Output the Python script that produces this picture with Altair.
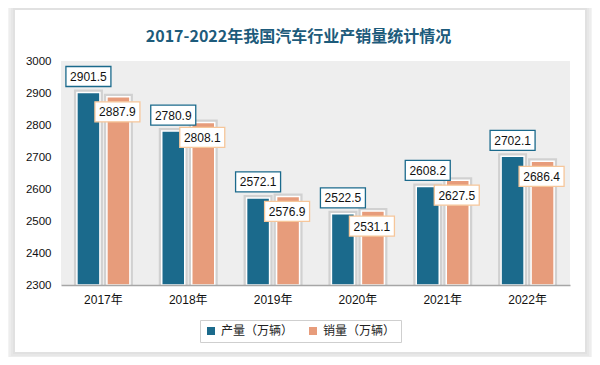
import altair as alt
import pandas as pd

# ---- data ----
years = ["2017年", "2018年", "2019年", "2020年", "2021年", "2022年"]
production = [2901.5, 2780.9, 2572.1, 2522.5, 2608.2, 2702.1]
sales = [2887.9, 2808.1, 2576.9, 2531.1, 2627.5, 2686.4]
series_names = ["产量（万辆）", "销量（万辆）"]
series_colors = ["#1b6a8c", "#e79c7b"]
box_strokes = ["#1b6a8c", "#f6c69a"]
y_ticks = [2300, 2400, 2500, 2600, 2700, 2800, 2900, 3000]
title_text = "2017-2022年我国汽车行业产销量统计情况"

W, H = 509, 224
NUM_FONT = "'Liberation Sans', 'Noto Sans CJK SC', sans-serif"
CJK_FONT = "'Noto Sans CJK SC', sans-serif"

df = pd.DataFrame({
    "year": years * 2,
    "series": [series_names[0]] * len(years) + [series_names[1]] * len(years),
    "value": production + sales,
})
prod_df = df[df["series"] == series_names[0]]
sales_df = df[df["series"] == series_names[1]]
one = pd.DataFrame({"a": [0]})

x_enc = alt.X("year:N", sort=years,
              scale=alt.Scale(domain=years, paddingInner=0, paddingOuter=0),
              axis=alt.Axis(title=None, labelAngle=0, domainColor="#a6a6a6", domainWidth=1.5,
                            ticks=False, labelPadding=9, labelFont=NUM_FONT, labelFontSize=12,
                            labelColor="#111111", grid=False, zindex=1))
y_enc = alt.Y("value:Q",
              scale=alt.Scale(domain=[y_ticks[0], y_ticks[-1]], zero=False, nice=False),
              axis=alt.Axis(title=None, values=y_ticks, format="d", domain=False, ticks=False,
                            grid=False, labelPadding=10, labelFont=NUM_FONT, labelFontSize=11.5,
                            labelColor="#111111", zindex=1))
y2_enc = alt.Y2(datum=y_ticks[0])

color_enc = alt.Color("series:N",
                      scale=alt.Scale(domain=series_names, range=series_colors),
                      legend=alt.Legend(title=None, orient="none", legendX=139, legendY=259,
                                        direction="horizontal", symbolType="square",
                                        symbolSize=64, symbolStrokeWidth=0,
                                        labelFont=CJK_FONT, labelFontSize=12,
                                        labelColor="#222222", padding=5,
                                        strokeColor="#cfcfcf", fillColor="white",
                                        columnPadding=13, labelOffset=4))

# ---- card with soft shadow (decoration) ----
card_l, card_r, card_t, card_b = -46, 524, -51, 291
layers = []
for k in range(6, 0, -1):
    d = 2 * k
    layers.append(
        alt.Chart(one).mark_rect(color="#000000", opacity=0.025).encode(
            x=alt.value(card_l - d + 2), x2=alt.value(card_r + d - 2),
            y=alt.value(card_t - d + 2), y2=alt.value(card_b + d - 2))
    )
layers.append(
    alt.Chart(one).mark_rect(color="#ffffff").encode(
        x=alt.value(card_l), x2=alt.value(card_r),
        y=alt.value(card_t), y2=alt.value(card_b))
)

# ---- light plot background (approximates the fine hatch) ----
layers.append(
    alt.Chart(one).mark_rect(color="#eeeeee").encode(
        x=alt.value(0), x2=alt.value(W), y=alt.value(0), y2=alt.value(H))
)

# ---- bars (shadow + bar) ----
for sub, off in [(prod_df, -15), (sales_df, 15)]:
    layers.append(
        alt.Chart(sub).mark_bar(width=29, xOffset=off, yOffset=-3, color="#000000",
                                opacity=0.12).encode(x=x_enc, y=y_enc, y2=y2_enc)
    )
    layers.append(
        alt.Chart(sub).mark_bar(width=23, xOffset=off, stroke="white", strokeWidth=1.5,
                                opacity=1).encode(x=x_enc, y=y_enc, y2=y2_enc, color=color_enc)
    )

# ---- value label boxes ----
BOX_W, BOX_H = 45, 20
hy = BOX_H / BOX_W
box_path = f"M-1,-{hy:.4f}L1,-{hy:.4f}L1,{hy:.4f}L-1,{hy:.4f}Z"
for sub, xo, yo, sc in [(prod_df, -15, -16, box_strokes[0]), (sales_df, 14, 15, box_strokes[1])]:
    layers.append(
        alt.Chart(sub).mark_point(shape=box_path, size=BOX_W * BOX_W, filled=True,
                                  fill="white", stroke=sc, strokeWidth=1.3, opacity=1,
                                  fillOpacity=1, xOffset=xo, yOffset=yo).encode(x=x_enc, y=y_enc)
    )
    layers.append(
        alt.Chart(sub).mark_text(font=NUM_FONT, fontSize=12, color="#111111", align="center",
                                 baseline="middle", xOffset=xo, yOffset=yo + 0.5).encode(
            x=x_enc, y=y_enc, text=alt.Text("value:Q", format=".1f"))
    )

chart = alt.layer(*layers).properties(
    width=W, height=H,
    autosize=alt.AutoSizeParams(type="none"),
    padding={"left": 53, "top": 53, "right": 22, "bottom": 72},
    title=alt.TitleParams(text=title_text, font=CJK_FONT, fontSize=16, fontWeight="bold",
                          color="#1d5b7b", anchor="middle", frame="group", offset=0,
                          dy=45, dx=-17),
    background="white",
).configure_view(stroke=None)

chart.save("out.html", embed_options={"renderer": "svg", "actions": False})
